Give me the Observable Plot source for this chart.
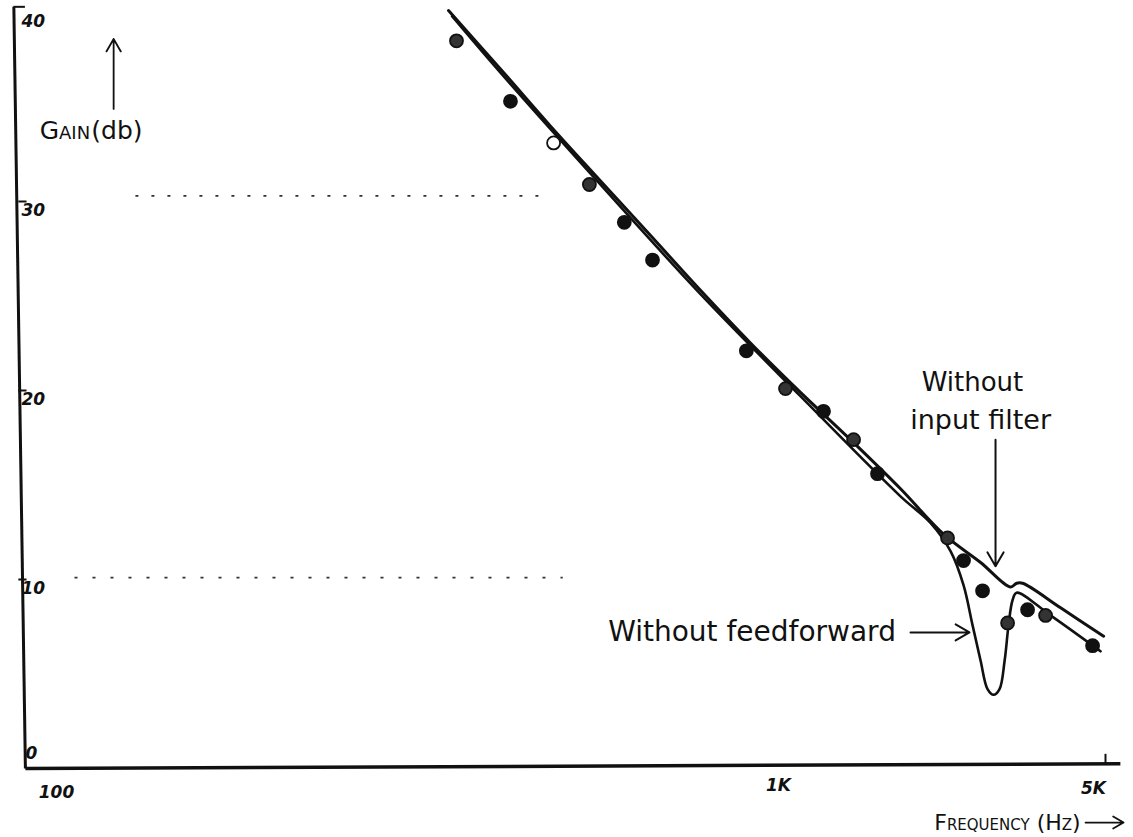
<!DOCTYPE html>
<html><head><meta charset="utf-8">
<script src="https://cdn.jsdelivr.net/npm/d3@7"></script>
<script src="https://cdn.jsdelivr.net/npm/@observablehq/plot@0.6"></script>
<style>body{margin:0;background:#fff}</style>
</head><body><div id="chart"></div>
<script>
// measured points
const freqHz = [376, 443, 505, 563, 626, 682, 907, 1035, 1248, 1447, 1628, 2298, 2486, 2730, 3088, 3407, 3723, 4692];
const gainDb = [38.5, 35.3, 33.1, 30.9, 28.9, 26.9, 22.1, 20.1, 18.9, 17.4, 15.6, 12.2, 11.0, 9.4, 7.7, 8.4, 8.1, 6.5];
const pointKind = ["hatched","filled","open","hatched","filled","filled","filled","hatched","filled","hatched","filled","hatched","filled","filled","hatched","filled","hatched","filled"];

// curve: without input filter
const noFilterHz = [367, 430, 500, 582, 678, 789, 919, 1114, 1425, 1823, 2253, 2704, 3133, 3228, 3325, 4009, 4954];
const noFilterDb = [40.1, 37.0, 34.0, 31.1, 28.2, 25.3, 22.5, 19.9, 17.4, 14.8, 12.4, 10.9, 9.6, 9.8, 9.8, 8.5, 7.0];

// curve: without feedforward
const noFeedHz = [371, 430, 582, 789, 1114, 1823, 2113, 2332, 2486, 2598, 2704, 2798, 2882, 2968, 3043, 3103, 3164, 3228, 3814, 4879];
const noFeedDb = [39.8, 36.8, 30.9, 25.1, 19.7, 14.4, 13.0, 11.5, 9.7, 7.6, 5.7, 4.2, 3.9, 4.2, 5.7, 7.6, 8.9, 9.3, 8.1, 6.2];

const yTicks = [0, 10, 20, 30, 40];
const xTicks = [100, 1000, 5000];
const xTickLabels = ["100", "1K", "5K"];

const pts = freqHz.map((f, i) => ({f, g: gainDb[i], kind: pointKind[i]}));
const c1 = noFilterHz.map((f, i) => ({f, g: noFilterDb[i]}));
const c2 = noFeedHz.map((f, i) => ({f, g: noFeedDb[i]}));
const kindFill = {filled: "#111", hatched: "#333", open: "#fff"};

const hand = "DejaVu Sans";
const tickFont = {fontSize: 17, fontWeight: "bold", fontStyle: "italic", fill: "#111"};
const fmt = v => xTickLabels[xTicks.indexOf(v)];

const chart = Plot.plot({
  width: 1133, height: 837,
  marginLeft: 20, marginRight: 28, marginTop: 12, marginBottom: 69,
  style: {background: "#fff", fontFamily: hand, color: "#111"},
  x: {type: "log", domain: xTicks, range: [20, 778, 1105]},
  y: {domain: [0, 40]},
  color: {type: "identity"},
  marks: [
    // sparse dotted guide lines
    Plot.ruleY([30.3], {x1: 142, x2: 500, stroke: "#333", strokeWidth: 1.6, strokeDasharray: "3,13"}),
    Plot.ruleY([10.1], {x1: 118, x2: 520, stroke: "#333", strokeWidth: 1.6, strokeDasharray: "3,15"}),
    // hand-drawn axes
    Plot.link([0], {x1: 101.5, y1: 0, x2: 98, y2: 40.3, stroke: "#111", strokeWidth: 3}),
    Plot.link([0], {x1: 101.5, y1: 0, x2: 5380, y2: 0.25, stroke: "#111", strokeWidth: 3.5}),
    Plot.ruleY([40.3], {x1: 98, x2: 101.5, stroke: "#111", strokeWidth: 2}),
    Plot.ruleY(yTicks.filter(d => d > 0 && d < 40), {x1: 99.5, x2: 102, stroke: "#111", strokeWidth: 2}),
    Plot.ruleX([5000], {y1: 0.2, y2: 0.75, stroke: "#111", strokeWidth: 2}),
    Plot.axisY(yTicks.filter(d => d > 0), {tickSize: 0, textAnchor: "start", dx: 10, dy: 9, label: null, ...tickFont}),
    Plot.axisY([0], {tickSize: 0, textAnchor: "start", dx: 14, dy: -15, label: null, ...tickFont}),
    Plot.axisX([xTicks[0]], {tickSize: 0, dx: 36, dy: 8, tickFormat: fmt, label: null, ...tickFont}),
    Plot.axisX([xTicks[1]], {tickSize: 0, dx: 0, dy: 1, tickFormat: fmt, label: null, ...tickFont}),
    Plot.axisX([xTicks[2]], {tickSize: 0, dx: -12, dy: 4, tickFormat: fmt, label: null, ...tickFont}),
    // curves
    Plot.line(c2, {x: "f", y: "g", curve: "catmull-rom", stroke: "#111", strokeWidth: 2.6}),
    Plot.line(c1, {x: "f", y: "g", curve: "catmull-rom", stroke: "#111", strokeWidth: 3}),
    // measured points
    Plot.dot(pts, {x: "f", y: "g", r: 6.5, fill: d => kindFill[d.kind], stroke: "#111", strokeWidth: 1.8}),
    // axis titles
    Plot.text(["Gain"], {x: 106, y: 33.3, textAnchor: "start", lineAnchor: "bottom", fontVariant: "small-caps", fontSize: 25, fill: "#111"}),
    Plot.text(["(db)"], {x: 124, y: 33.3, textAnchor: "start", lineAnchor: "bottom", fontSize: 25, fill: "#111"}),
    Plot.arrow([0], {x1: 132.7, y1: 34.9, x2: 132.7, y2: 38.6, stroke: "#111", strokeWidth: 1.8, headLength: 12}),
    Plot.text(["Frequency (Hz)"], {x: 4424, y: -2.86, textAnchor: "end", fontVariant: "small-caps", fontSize: 22, fill: "#111"}),
    Plot.arrow([0], {x1: 4532, y1: -2.86, x2: 5465, y2: -2.86, stroke: "#111", strokeWidth: 1.8, headLength: 10}),
    // annotations
    Plot.text(["Without feedforward"], {x: 596, y: 7.2, textAnchor: "start", fontSize: 28, fill: "#111"}),
    Plot.arrow([0], {x1: 1915, y1: 7.2, x2: 2560, y2: 7.2, stroke: "#111", strokeWidth: 2, headLength: 12}),
    Plot.text(["Without"], {x: 2598, y: 20.4, fontSize: 26, fill: "#111"}),
    Plot.text(["input filter"], {x: 2704, y: 18.4, fontSize: 27, fill: "#111"}),
    Plot.arrow([0], {x1: 2910, y1: 17.4, x2: 2910, y2: 10.7, stroke: "#111", strokeWidth: 2, headLength: 12})
  ]
});
document.getElementById("chart").appendChild(chart);
</script>
</body></html>
